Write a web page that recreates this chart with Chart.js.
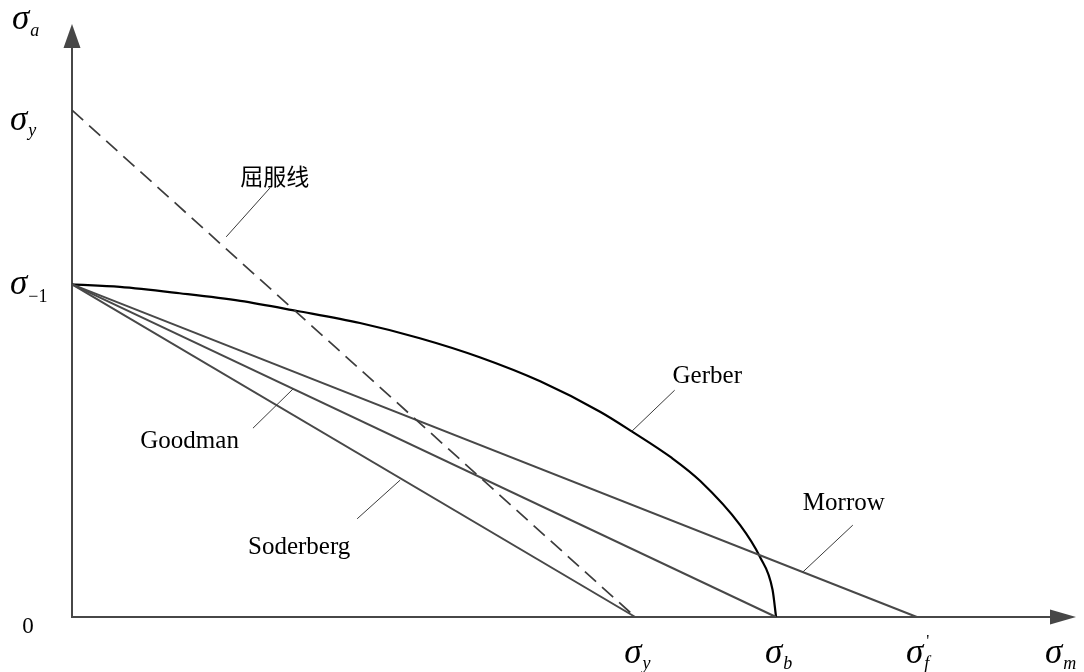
<!DOCTYPE html>
<html>
<head>
<meta charset="utf-8">
<script src="https://cdn.jsdelivr.net/npm/chart.js@4.4.0/dist/chart.umd.min.js"></script>
<style>
  html, body { margin: 0; padding: 0; background: #fff; }
  canvas { display: block; }
</style>
</head>
<body>
<canvas id="c" width="1084" height="672"></canvas>
<script>
// Material strengths (arbitrary stress units)
const yieldStrength = 80;      // σy
const tensileStrength = 100;   // σb
const fractureStrength = 120;  // σf'
const fatigueLimit = 52.5;     // σ-1

// Straight criteria: [σm, σa] end points
const soderbergMean = [0, yieldStrength];
const soderbergAmp  = [fatigueLimit, 0];
const goodmanMean   = [0, tensileStrength];
const goodmanAmp    = [fatigueLimit, 0];
const morrowMean    = [0, fractureStrength];
const morrowAmp     = [fatigueLimit, 0];
const yieldMean     = [0, yieldStrength];
const yieldAmp      = [yieldStrength, 0];

// Gerber curve read point by point
const gerberMean = [0, 6.8, 15.3, 23.9, 32.0, 40.9, 49.4, 57.9, 66.5, 75.0, 79.5, 85.2, 89.2, 94.9, 97.7, 99.5, 100];
const gerberAmp  = [52.5, 52.1, 51.1, 49.9, 48.3, 46.4, 44.0, 41.0, 37.2, 32.4, 29.3, 25.1, 21.5, 14.5, 9.5, 4.3, 0];

// Axis tick labels: symbol, subscript, value
const yTickLabels = [
  { sub: 'y',  value: yieldStrength },
  { sub: '−1', value: fatigueLimit, upright: true }
];
const xTickLabels = [
  { sub: 'y', value: yieldStrength },
  { sub: 'b', value: tensileStrength },
  { sub: 'f', value: fractureStrength, prime: true }
];

// Curve names with leader lines (data units)
const curveNotes = [
  { text: '屈服线',   at: [23.9, 68.2], from: [28.1, 67.7], to: [21.9, 60.0], cjk: true },
  { text: 'Gerber',    at: [85.3, 36.9], from: [85.6, 35.8], to: [79.5, 29.3] },
  { text: 'Goodman',   at: [9.7, 26.7],  from: [25.7, 29.8], to: [31.4, 36.0] },
  { text: 'Soderberg', at: [25.0, 9.9],  from: [40.5, 15.5], to: [46.6, 21.6] },
  { text: 'Morrow',    at: [103.8, 16.9], from: [110.9, 14.5], to: [103.8, 7.1] }
];

const pts = (xs, ys) => xs.map((x, i) => ({ x, y: ys[i] }));

const SERIF = '"Liberation Serif", "Times New Roman", serif';

function drawSymbol(ctx, x, baseline, sub, opts = {}) {
  ctx.save();
  ctx.fillStyle = '#000';
  ctx.textBaseline = 'alphabetic';
  ctx.textAlign = 'left';
  ctx.font = 'italic 35px ' + SERIF;
  ctx.fillText('σ', x, baseline);
  const w = ctx.measureText('σ').width;
  ctx.font = (opts.upright ? '' : 'italic ') + '18px ' + SERIF;
  ctx.fillText(sub, x + w + 1, baseline + (opts.subDrop || 6));
  if (opts.prime) {
    ctx.font = '17px ' + SERIF;
    ctx.fillText("'", x + w + 3, baseline - 17);
  }
  ctx.restore();
}

const axesPlugin = {
  id: 'axesPlugin',
  beforeDatasetsDraw(chart) {
    const { ctx, scales: { x, y } } = chart;
    const ox = x.getPixelForValue(0), oy = y.getPixelForValue(0);
    const xEnd = x.getPixelForValue(x.max), yEnd = y.getPixelForValue(y.max);
    ctx.save();
    ctx.strokeStyle = '#474747';
    ctx.fillStyle = '#474747';
    ctx.lineWidth = 2;
    ctx.beginPath();
    ctx.moveTo(ox, yEnd + 22);
    ctx.lineTo(ox, oy);
    ctx.lineTo(xEnd - 24, oy);
    ctx.stroke();
    // arrow heads
    ctx.beginPath();
    ctx.moveTo(ox, yEnd);
    ctx.lineTo(ox - 8.5, yEnd + 24);
    ctx.lineTo(ox + 8.5, yEnd + 24);
    ctx.closePath();
    ctx.fill();
    ctx.beginPath();
    ctx.moveTo(xEnd, oy);
    ctx.lineTo(xEnd - 26, oy - 7.5);
    ctx.lineTo(xEnd - 26, oy + 7.5);
    ctx.closePath();
    ctx.fill();
    ctx.restore();
  },
  afterDatasetsDraw(chart) {
    const { ctx, scales: { x, y } } = chart;
    const ox = x.getPixelForValue(0), oy = y.getPixelForValue(0);

    // axis titles
    drawSymbol(ctx, 12, 29, 'a', { subDrop: 7 });
    drawSymbol(ctx, x.getPixelForValue(x.max) - 31, oy + 46, 'm', { subDrop: 6 });

    // y tick labels
    yTickLabels.forEach(t => {
      const py = y.getPixelForValue(t.value);
      const dy = t.upright ? 10 : 20;
      drawSymbol(ctx, 10, py + dy, t.sub, { upright: t.upright, subDrop: t.upright ? 8 : 6 });
    });
    // origin
    ctx.save();
    ctx.fillStyle = '#000';
    ctx.font = '23px ' + SERIF;
    ctx.textAlign = 'center';
    ctx.fillText('0', 28, oy + 16);
    ctx.restore();

    // x tick labels
    xTickLabels.forEach(t => {
      const px = x.getPixelForValue(t.value);
      drawSymbol(ctx, px - 11, oy + 46, t.sub, { prime: t.prime, subDrop: 6 });
    });

    // curve notes
    curveNotes.forEach(n => {
      ctx.save();
      ctx.strokeStyle = '#3a3a3a';
      ctx.lineWidth = 1;
      ctx.beginPath();
      ctx.moveTo(x.getPixelForValue(n.from[0]), y.getPixelForValue(n.from[1]));
      ctx.lineTo(x.getPixelForValue(n.to[0]), y.getPixelForValue(n.to[1]));
      ctx.stroke();
      ctx.fillStyle = '#000';
      ctx.textBaseline = 'alphabetic';
      ctx.font = n.cjk ? '23px "Noto Sans CJK SC"' : '25px ' + SERIF;
      ctx.fillText(n.text, x.getPixelForValue(n.at[0]), y.getPixelForValue(n.at[1]));
      ctx.restore();
    });
  }
};

const lineStyle = { showLine: true, pointRadius: 0, fill: false, clip: false, tension: 0 };

new Chart(document.getElementById('c'), {
  type: 'scatter',
  data: {
    datasets: [
      { ...lineStyle, label: '屈服线', data: pts(yieldMean, yieldAmp), borderColor: '#3c3c3c', borderWidth: 1.7, borderDash: [15, 8] },
      { ...lineStyle, label: 'Soderberg', data: pts(soderbergMean, soderbergAmp), borderColor: '#484848', borderWidth: 2 },
      { ...lineStyle, label: 'Goodman', data: pts(goodmanMean, goodmanAmp), borderColor: '#484848', borderWidth: 2 },
      { ...lineStyle, label: 'Morrow', data: pts(morrowMean, morrowAmp), borderColor: '#484848', borderWidth: 2 },
      { ...lineStyle, label: 'Gerber', data: pts(gerberMean, gerberAmp), borderColor: '#000', borderWidth: 2.2, cubicInterpolationMode: 'monotone' }
    ]
  },
  options: {
    responsive: false,
    animation: false,
    events: [],
    layout: { padding: { left: 72, right: 8, top: 24, bottom: 55 } },
    scales: {
      x: { type: 'linear', min: 0, max: 142.6, display: false },
      y: { type: 'linear', min: 0, max: 93.6, display: false }
    },
    plugins: { legend: { display: false }, tooltip: { enabled: false } }
  },
  plugins: [axesPlugin]
});
</script>
</body>
</html>
